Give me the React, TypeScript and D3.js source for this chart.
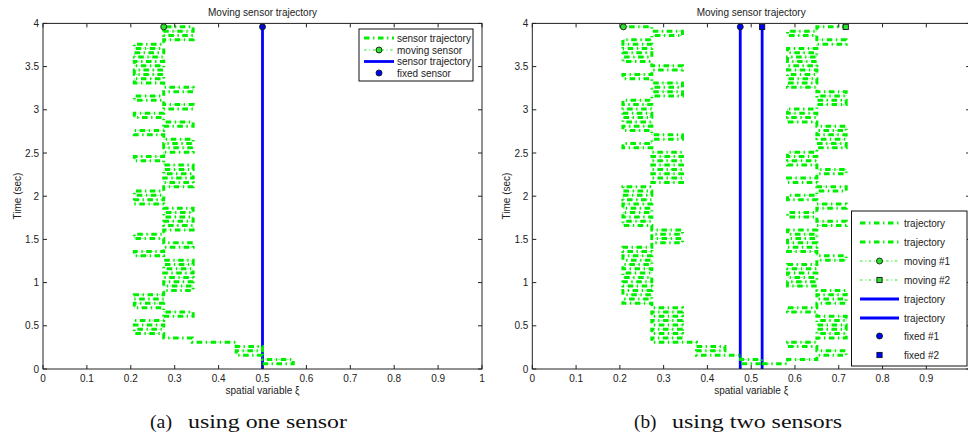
import React from "react";
import * as d3 from "d3";

// ---------- data ----------
const xTickValues = [0, 0.1, 0.2, 0.3, 0.4, 0.5, 0.6, 0.7, 0.8, 0.9, 1];
const xTickLabels = ["0", "0.1", "0.2", "0.3", "0.4", "0.5", "0.6", "0.7", "0.8", "0.9", "1"];
const yTickValues = [0, 0.5, 1, 1.5, 2, 2.5, 3, 3.5, 4];
const yTickLabels = ["0", "0.5", "1", "1.5", "2", "2.5", "3", "3.5", "4"];

// sensor position at each time step (sec), time step 0.05 s
const firstRowTime = 0.06;
const timeStep = 0.05;

// (a) one moving sensor
const movingOne = [
  0.5, 0.57, 0.5, 0.44, 0.5, 0.44, 0.34, 0.275,
  0.208, 0.275, 0.208, 0.275,
  0.342, 0.275,
  0.208, 0.275, 0.208, 0.275,
  0.342, 0.275, 0.342, 0.275, 0.342, 0.275, 0.342, 0.275,
  0.208, 0.275,
  0.342, 0.275,
  0.208, 0.275,
  0.342, 0.275, 0.342, 0.275, 0.342, 0.275,
  0.208, 0.275, 0.208, 0.275,
  0.342, 0.275, 0.342, 0.275, 0.342, 0.275,
  0.208, 0.275,
  0.342, 0.275, 0.342, 0.275,
  0.208, 0.275,
  0.342, 0.275,
  0.208, 0.275,
  0.342, 0.275,
  0.208, 0.275,
  0.342, 0.275,
  0.208, 0.275, 0.208, 0.275, 0.208, 0.275, 0.208, 0.275, 0.208, 0.275,
  0.342, 0.275, 0.342, 0.275,
];
const fixedOne = [0.5];

// (b) two moving sensors
const movingTwoFirst = [
  0.478, 0.524, 0.476, 0.375, 0.44, 0.375, 0.273,
  0.343, 0.273, 0.343, 0.273, 0.343, 0.273, 0.343, 0.273,
  0.207, 0.273, 0.207, 0.273, 0.207, 0.273, 0.207, 0.273, 0.207, 0.273, 0.207, 0.273, 0.207, 0.273,
  0.343, 0.273, 0.343, 0.273,
  0.207, 0.273, 0.207, 0.273, 0.207, 0.273, 0.207, 0.273, 0.207, 0.273,
  0.343, 0.273, 0.343, 0.273, 0.343, 0.273, 0.343, 0.273,
  0.207, 0.273,
  0.343, 0.273,
  0.207, 0.273, 0.207, 0.273, 0.207, 0.273, 0.207, 0.273,
  0.343, 0.273, 0.343, 0.273,
  0.207, 0.273,
  0.343, 0.273,
  0.207, 0.273, 0.207, 0.273, 0.207, 0.273,
  0.343, 0.273,
  0.208,
];
const movingTwoSecond = [
  0.525, 0.583, 0.65,
  0.717, 0.65,
  0.583, 0.65,
  0.717, 0.65, 0.717, 0.65, 0.717, 0.65,
  0.583, 0.65,
  0.717, 0.65, 0.717, 0.65,
  0.583, 0.65, 0.583, 0.65, 0.583, 0.65,
  0.717, 0.65,
  0.583, 0.65, 0.583, 0.65, 0.583, 0.65,
  0.717, 0.65,
  0.583, 0.65,
  0.717, 0.65,
  0.583, 0.65,
  0.717, 0.65,
  0.583, 0.65,
  0.717, 0.65,
  0.583, 0.65, 0.583, 0.65,
  0.717, 0.65, 0.717, 0.65, 0.717, 0.65,
  0.583, 0.65, 0.583, 0.65,
  0.717, 0.65, 0.717, 0.65,
  0.583, 0.65, 0.583, 0.65, 0.583, 0.65, 0.583, 0.65, 0.583, 0.65,
  0.717, 0.65,
  0.583, 0.65,
  0.716,
];
const fixedTwo = [0.475, 0.525];

const legendOne = ["sensor trajectory", "moving sensor", "sensor trajectory", "fixed sensor"];
const legendTwo = ["trajectory", "trajectory", "moving #1", "moving #2", "trajectory", "trajectory", "fixed #1", "fixed #2"];

// ---------- styles ----------
const W = 968;
const GREEN = "#00ee00";
const BLUE = "#0000ff";
const FONT = "Liberation Sans, Arial, sans-serif";
const THICK_DASH = "5.5,3.6,1.3,3.6";
const THIN_DASH = "2.5,2.6,1,2.6";

type Pt = [number, number];

function stairPoints(pos: number[]): Pt[] {
  const pts: Pt[] = [];
  for (let k = 1; k < pos.length; k++) {
    const t = firstRowTime + timeStep * (k - 1);
    pts.push([pos[k - 1], t]);
    pts.push([pos[k], t]);
  }
  return pts;
}

function lastTime(pos: number[]) {
  return firstRowTime + timeStep * (pos.length - 2);
}

function Circle({ cx, cy, fill }: { cx: number; cy: number; fill: string }) {
  return <circle cx={cx} cy={cy} r={3} fill={fill} stroke="#102010" strokeWidth={0.9} />;
}
function Square({ cx, cy, fill }: { cx: number; cy: number; fill: string }) {
  return <rect x={cx - 2.6} y={cy - 2.6} width={5.2} height={5.2} fill={fill} stroke="#101020" strokeWidth={0.9} />;
}

function Panel({
  x0, x1, moving, fixed, movingShapes, fixedShapes,
}: {
  x0: number; x1: number; moving: number[][]; fixed: number[];
  movingShapes: ("c" | "s")[]; fixedShapes: ("c" | "s")[];
}) {
  const x = d3.scaleLinear().domain([0, 1]).range([x0, x1]);
  const y = d3.scaleLinear().domain([0, 4]).range([369, 23.4]);
  const line = d3.line<Pt>().x((d) => x(d[0])).y((d) => y(d[1]));
  const cx = (x0 + x1) / 2;
  const tEnd = lastTime(moving[0]);
  return (
    <g>
      {fixed.map((v, i) => (
        <line key={"f" + i} x1={x(v)} x2={x(v)} y1={y(0)} y2={y(tEnd)} stroke={BLUE} strokeWidth={2.8} />
      ))}
      {moving.map((pos, i) => {
        const d = line(stairPoints(pos)) || "";
        return (
          <g key={"m" + i}>
            <path d={d} fill="none" stroke={GREEN} strokeWidth={3} strokeDasharray={THICK_DASH} />
            <path d={d} fill="none" stroke={GREEN} strokeWidth={0.8} strokeDasharray={THIN_DASH} strokeDashoffset={4} opacity={0.6} />
          </g>
        );
      })}
      {fixed.map((v, i) =>
        fixedShapes[i] === "c" ? (
          <Circle key={"fm" + i} cx={x(v)} cy={y(tEnd)} fill={BLUE} />
        ) : (
          <Square key={"fm" + i} cx={x(v)} cy={y(tEnd)} fill={BLUE} />
        )
      )}
      {moving.map((pos, i) => {
        const px = x(pos[pos.length - 1]);
        const py = y(lastTime(pos));
        return movingShapes[i] === "c" ? (
          <Circle key={"mm" + i} cx={px} cy={py} fill="#2ee02e" />
        ) : (
          <Square key={"mm" + i} cx={px} cy={py} fill="#2ee02e" />
        );
      })}
      <rect x={x0} y={y(4)} width={x1 - x0} height={y(0) - y(4)} fill="none" stroke="#222" strokeWidth={1} />
      {xTickValues.map((v, i) => (
        <g key={"xt" + i}>
          <line x1={x(v)} x2={x(v)} y1={y(0)} y2={y(0) - 4} stroke="#222" strokeWidth={1} />
          <line x1={x(v)} x2={x(v)} y1={y(4)} y2={y(4) + 4} stroke="#222" strokeWidth={1} />
          {x(v) + 4 < W && (
            <text x={x(v)} y={381.5} fontSize={10} fontFamily={FONT} textAnchor="middle" fill="#222">
              {xTickLabels[i]}
            </text>
          )}
        </g>
      ))}
      {yTickValues.map((v, i) => (
        <g key={"yt" + i}>
          <line x1={x0} x2={x0 + 4} y1={y(v)} y2={y(v)} stroke="#222" strokeWidth={1} />
          <line x1={x1} x2={x1 - 4} y1={y(v)} y2={y(v)} stroke="#222" strokeWidth={1} />
          <text x={x0 - 4} y={y(v) + 3.6} fontSize={10} fontFamily={FONT} textAnchor="end" fill="#222">
            {yTickLabels[i]}
          </text>
        </g>
      ))}
      <text x={cx} y={15.5} fontSize={10} fontFamily={FONT} textAnchor="middle" fill="#222">
        Moving sensor trajectory
      </text>
      <text x={cx} y={393.5} fontSize={10} fontFamily={FONT} textAnchor="middle" fill="#222">
        spatial variable ξ
      </text>
      <text
        transform={`translate(${x0 - 22.5},196) rotate(-90)`}
        fontSize={10}
        fontFamily={FONT}
        textAnchor="middle"
        fill="#222"
      >
        Time (sec)
      </text>
    </g>
  );
}

type Entry = { label: string; kind: "thick" | "thin" | "blue" | "none"; marker?: "c" | "s"; markerFill?: string };

function Legend({ x, y, w, h, rows, sx0, sx1, tx, entries }: {
  x: number; y: number; w: number; h: number; rows: number[]; sx0: number; sx1: number; tx: number; entries: Entry[];
}) {
  const mx = (sx0 + sx1) / 2;
  return (
    <g>
      <rect x={x} y={y} width={w} height={h} fill="#fff" stroke="#111" strokeWidth={1} />
      {entries.map((e, i) => {
        const ry = rows[i];
        return (
          <g key={i}>
            {e.kind === "thick" && (
              <line x1={sx0} x2={sx1} y1={ry} y2={ry} stroke={GREEN} strokeWidth={3} strokeDasharray={THICK_DASH} />
            )}
            {e.kind === "thin" && (
              <line x1={sx0} x2={sx1} y1={ry} y2={ry} stroke={GREEN} strokeWidth={0.9} strokeDasharray={THIN_DASH} />
            )}
            {e.kind === "blue" && <line x1={sx0} x2={sx1} y1={ry} y2={ry} stroke={BLUE} strokeWidth={2.8} />}
            {e.marker === "c" && <Circle cx={mx} cy={ry} fill={e.markerFill || GREEN} />}
            {e.marker === "s" && <Square cx={mx} cy={ry} fill={e.markerFill || GREEN} />}
            <text x={tx} y={ry + 3.5} fontSize={10} fontFamily={FONT} fill="#222">
              {e.label}
            </text>
          </g>
        );
      })}
    </g>
  );
}

export default function App() {
  const entriesOne: Entry[] = [
    { label: legendOne[0], kind: "thick" },
    { label: legendOne[1], kind: "thin", marker: "c", markerFill: "#2ee02e" },
    { label: legendOne[2], kind: "blue" },
    { label: legendOne[3], kind: "none", marker: "c", markerFill: BLUE },
  ];
  const entriesTwo: Entry[] = [
    { label: legendTwo[0], kind: "thick" },
    { label: legendTwo[1], kind: "thick" },
    { label: legendTwo[2], kind: "thin", marker: "c", markerFill: "#2ee02e" },
    { label: legendTwo[3], kind: "thin", marker: "s", markerFill: "#2ee02e" },
    { label: legendTwo[4], kind: "blue" },
    { label: legendTwo[5], kind: "blue" },
    { label: legendTwo[6], kind: "none", marker: "c", markerFill: BLUE },
    { label: legendTwo[7], kind: "none", marker: "s", markerFill: BLUE },
  ];
  return (
    <div style={{ position: "absolute", left: 0, top: 0 }}>
      <svg width={W} height={437} style={{ display: "block", background: "#fff" }}>
        <Panel x0={43} x1={482} moving={[movingOne]} fixed={fixedOne} movingShapes={["c"]} fixedShapes={["c"]} />
        <Legend x={359} y={29} w={114} h={52} rows={[38, 50, 61.5, 73]} sx0={364} sx1={394} tx={397} entries={entriesOne} />
        <Panel
          x0={532.3}
          x1={970.1}
          moving={[movingTwoFirst, movingTwoSecond]}
          fixed={fixedTwo}
          movingShapes={["c", "s"]}
          fixedShapes={["c", "s"]}
        />
        <Legend
          x={851.5}
          y={211}
          w={115.5}
          h={155}
          rows={[223, 242, 261, 280, 299, 318, 336, 355]}
          sx0={860}
          sx1={899}
          tx={904}
          entries={entriesTwo}
        />
        <g fontFamily="Liberation Serif, Times New Roman, serif" fontSize={18} fill="#111">
          <text x={150} y={428} textLength={22} lengthAdjust="spacingAndGlyphs">(a)</text>
          <text x={188} y={428} textLength={159} lengthAdjust="spacingAndGlyphs">using one sensor</text>
          <text x={634} y={428} textLength={22.5} lengthAdjust="spacingAndGlyphs">(b)</text>
          <text x={672} y={428} textLength={170} lengthAdjust="spacingAndGlyphs">using two sensors</text>
        </g>
      </svg>
    </div>
  );
}
